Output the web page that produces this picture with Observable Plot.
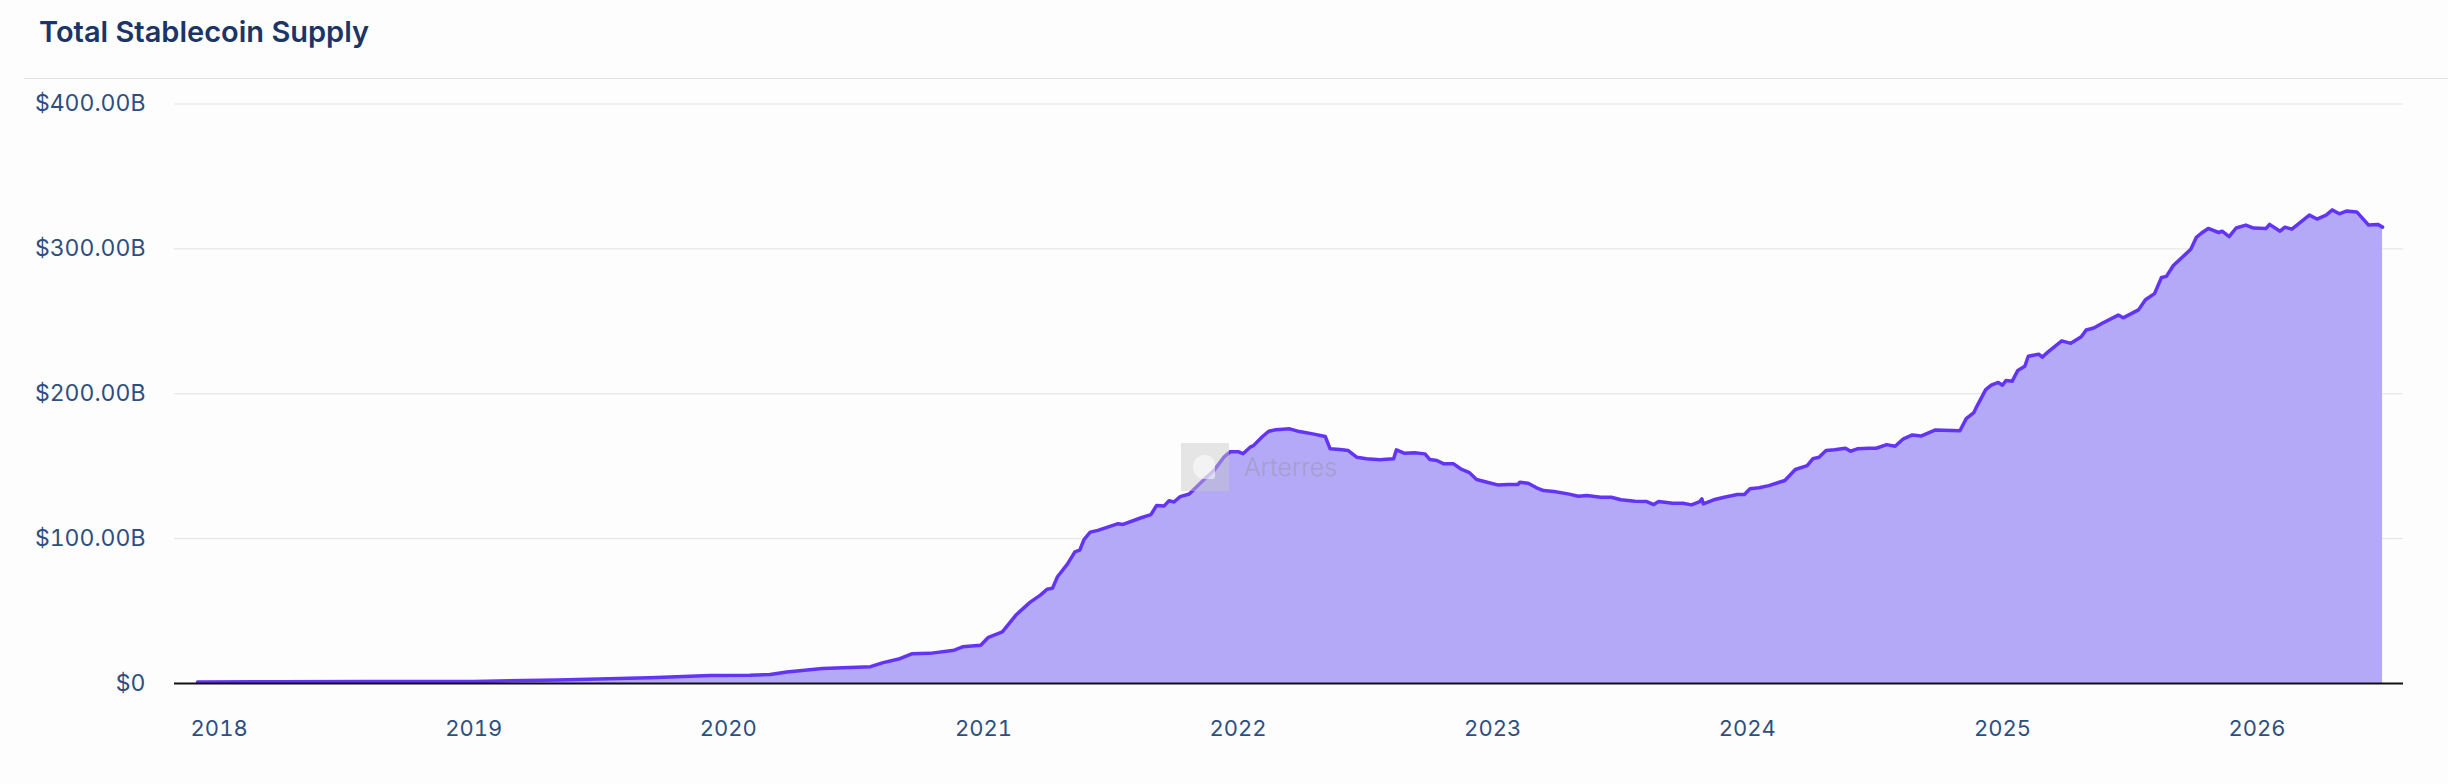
<!DOCTYPE html>
<html>
<head>
<meta charset="utf-8">
<script src="https://cdn.jsdelivr.net/npm/d3@7"></script>
<script src="https://cdn.jsdelivr.net/npm/@observablehq/plot@0.6"></script>
<style>
  html, body { margin: 0; padding: 0; background: #fdfdfd; }
  body { width: 2448px; height: 784px; position: relative; overflow: hidden; font-family: Inter, "Noto Sans", sans-serif; }
  #title { position: absolute; left: 39px; top: 17px; font-size: 29px; line-height: 30px; font-weight: 600; color: #1b3566; }
  #sep { position: absolute; left: 24px; right: 0; top: 78px; height: 1px; background: #e2e2e2; }
  #chart { position: absolute; left: 0; top: 80px; }
  #wm { position: absolute; left: 1181px; top: 443px; pointer-events: none; }
  #wm .logo { position: absolute; left: 0; top: 0; width: 48px; height: 48px; background: rgba(200,200,200,0.45); }
  #wm .logo::after { content: ""; position: absolute; left: 12px; top: 12px; width: 22px; height: 24px; border-radius: 50% 40% 10% 50%; background: rgba(255,255,255,0.55); }
  #wm .txt { position: absolute; left: 63px; top: 9px; font-size: 25px; line-height: 30px; font-weight: 300; color: rgba(150,150,165,0.55); white-space: nowrap; }
</style>
</head>
<body>
<div id="title">Total Stablecoin Supply</div>
<div id="sep"></div>
<div id="chart"></div>
<div id="wm"><div class="logo"></div><div class="txt">Arterres</div></div>
<script>
// ---- data ----
const dates = [
  "2017-12-01","2018-04-01","2018-08-01","2019-01-01","2019-05-01","2019-09-10","2019-12-06",
  "2020-02-01","2020-03-01","2020-03-25","2020-05-15","2020-07-23","2020-08-10","2020-09-03","2020-09-20",
  "2020-10-16","2020-11-20","2020-12-02","2020-12-28",
  "2021-01-08","2021-01-28","2021-02-17","2021-03-09","2021-03-24","2021-04-02","2021-04-10","2021-04-17",
  "2021-05-01","2021-05-12","2021-05-19","2021-05-25","2021-06-03","2021-06-14","2021-07-13","2021-07-20",
  "2021-08-15","2021-08-29","2021-09-06","2021-09-17","2021-09-24","2021-10-01","2021-10-10","2021-10-23",
  "2021-11-14","2021-11-27","2021-12-12","2021-12-21",
  "2022-01-01","2022-01-08","2022-01-19","2022-01-23","2022-02-05","2022-02-14","2022-02-24","2022-03-16",
  "2022-03-30","2022-04-18","2022-05-06","2022-05-13","2022-05-27","2022-06-08","2022-06-20","2022-07-04",
  "2022-07-23","2022-08-12","2022-08-16","2022-08-27","2022-09-11","2022-09-26","2022-10-03","2022-10-13",
  "2022-10-23","2022-11-06","2022-11-16","2022-11-28","2022-12-09","2022-12-24",
  "2023-01-08","2023-01-23","2023-02-06","2023-02-09","2023-02-21","2023-03-05","2023-03-15","2023-03-30",
  "2023-04-19","2023-05-04","2023-05-16","2023-06-05","2023-06-20","2023-07-04","2023-07-24","2023-08-10",
  "2023-08-20","2023-08-27","2023-09-16","2023-10-01","2023-10-13","2023-10-25","2023-10-28","2023-10-30",
  "2023-11-14","2023-11-29","2023-12-18","2023-12-28",
  "2024-01-05","2024-01-18","2024-02-01","2024-02-16","2024-02-24","2024-03-10","2024-03-27","2024-04-04",
  "2024-04-13","2024-04-23","2024-05-05","2024-05-21","2024-05-28","2024-06-07","2024-06-24","2024-07-04",
  "2024-07-19","2024-07-31","2024-08-12","2024-08-25","2024-09-06","2024-09-27","2024-11-01","2024-11-10",
  "2024-11-21","2024-11-26","2024-12-08","2024-12-16","2024-12-26",
  "2025-01-01","2025-01-06","2025-01-15","2025-01-23","2025-02-02","2025-02-07","2025-02-22","2025-02-27",
  "2025-03-07","2025-03-27","2025-04-09","2025-04-24","2025-05-01","2025-05-12","2025-05-24","2025-06-16",
  "2025-06-23","2025-07-15","2025-07-25","2025-08-07","2025-08-17","2025-08-24","2025-09-03","2025-09-28",
  "2025-10-06","2025-10-13","2025-10-23","2025-11-07","2025-11-12","2025-11-22","2025-12-02","2025-12-16",
  "2025-12-27",
  "2026-01-14","2026-01-19","2026-02-03","2026-02-10","2026-02-20","2026-03-17","2026-03-28","2026-04-10",
  "2026-04-19","2026-04-29","2026-05-09","2026-05-24","2026-06-10","2026-06-23","2026-06-30"
];
const supplyB = [
  1.1,1.2,1.3,1.4,2.5,3.9,5.5,
  5.7,6.2,7.9,10.3,11.6,14.4,17.1,20.5,
  20.8,23.0,25.3,26.4,
  31.9,35.6,47.5,56.2,61.2,65.1,65.8,73.7,
  82.2,90.8,92.0,99.3,104.5,105.7,110.3,109.8,
  114.4,116.6,122.8,122.6,126.2,125.3,129.0,130.8,
  141.1,146.8,156.4,160.0,
  160.0,158.6,163.4,164.2,170.5,174.1,175.1,175.8,
  173.9,172.3,170.5,162.0,161.5,160.8,156.2,155.1,
  154.4,155.1,161.3,159.0,159.2,158.5,154.6,153.9,
  151.6,151.6,148.2,145.8,140.8,138.9,
  137.1,137.3,137.3,138.9,138.2,135.1,133.2,132.5,
  130.9,129.3,129.7,128.6,128.6,126.8,125.8,125.6,
  123.5,125.6,124.4,124.4,123.3,125.6,127.5,124.0,
  126.8,128.6,130.4,130.4,
  134.4,135.1,136.6,138.9,140.1,147.7,150.4,155.1,
  156.2,160.8,161.3,162.4,160.3,162.0,162.4,162.4,
  164.9,163.8,168.9,171.6,170.8,175.0,174.5,182.8,
  187.0,192.0,202.8,205.9,207.8,
  205.9,209.2,208.7,216.1,219.0,225.9,227.3,225.3,
  228.7,236.5,234.8,239.3,244.0,245.4,248.7,254.3,
  252.4,257.9,264.9,269.1,280.2,281.0,288.5,299.7,
  308.0,310.8,314.1,311.3,312.2,308.5,314.4,316.4,
  314.4,
  314.1,316.9,312.2,315.0,313.6,323.3,320.6,323.3,
  326.9,324.2,326.1,325.5,316.4,316.9,315.0
];
const yTicks = [0, 100, 200, 300, 400];
const xTickYears = ["2018","2019","2020","2021","2022","2023","2024","2025","2026"];

const rows = dates.map((d, i) => ({date: new Date(d + "T00:00:00Z"), value: supplyB[i]}));
const xTicks = xTickYears.map(y => new Date(y + "-01-01T00:00:00Z"));
const fmtY = v => v === 0 ? "$0" : "$" + v.toFixed(2) + "B";

const chart = Plot.plot({
  width: 2448,
  height: 704,
  marginLeft: 174,
  marginRight: 45,
  marginTop: 23.5,
  marginBottom: 101,
  style: {background: "transparent", fontFamily: "Inter, 'Noto Sans', sans-serif", color: "#2d4f7f"},
  x: {type: "utc", domain: [new Date("2017-10-29T00:00:00Z"), new Date("2026-07-30T00:00:00Z")]},
  y: {domain: [0, 400]},
  marks: [
    Plot.gridY(yTicks.filter(v => v > 0), {stroke: "#e3e3e3", strokeOpacity: 1, strokeWidth: 1}),
    Plot.areaY(rows, {x: "date", y: "value", fill: "#b3a9f7", fillOpacity: 1, curve: "linear"}),
    Plot.lineY(rows, {x: "date", y: "value", stroke: "#6434f6", strokeWidth: 3.5, curve: "linear", strokeLinejoin: "round"}),
    Plot.ruleY([0], {stroke: "#111", strokeWidth: 2}),
    Plot.axisY({ticks: yTicks, tickFormat: fmtY, tickSize: 0, tickPadding: 29, fontSize: 23, fill: "#2d4f7f", label: null}),
    Plot.axisX({ticks: xTicks, tickFormat: d3.utcFormat("%Y"), tickSize: 0, tickPadding: 37, fontSize: 22, fill: "#2d4f7f", label: null})
  ]
});
document.getElementById("chart").appendChild(chart);
</script>
</body>
</html>
